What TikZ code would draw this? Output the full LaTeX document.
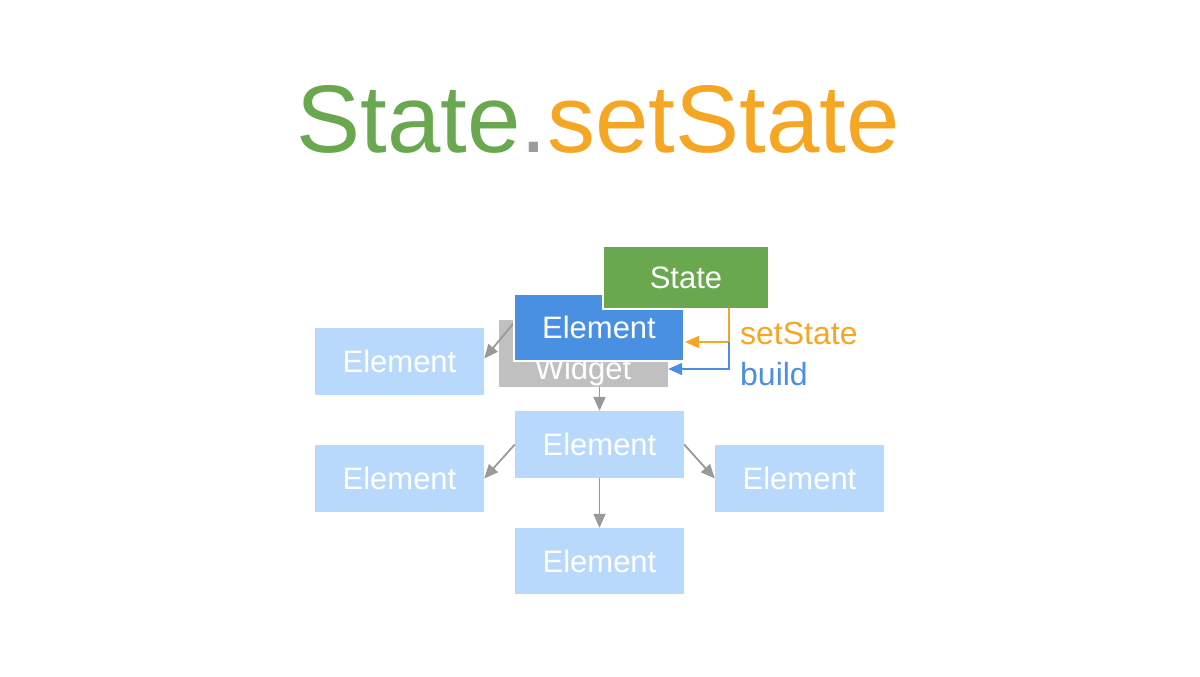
\documentclass[tikz,border=0pt]{standalone}
\usepackage{fontspec}
\setmainfont{Liberation Sans}
\usetikzlibrary{arrows.meta,calc}
\definecolor{sgreen}{HTML}{6AA84F}
\definecolor{sorange}{HTML}{F5A623}
\definecolor{sblue}{HTML}{4A90E2}
\definecolor{lblue}{HTML}{B9D9FC}
\definecolor{wgray}{HTML}{C0C0C0}
\definecolor{agray}{HTML}{999999}
\definecolor{dgray}{HTML}{9B9B9B}
\tikzset{
  box/.style={rectangle, inner sep=0pt, text=white, font=\fontsize{31}{34}\selectfont},
  lbox/.style={box, fill=lblue, minimum width=169pt, minimum height=67pt},
  garrow/.style={draw=agray, line width=1.8pt, -{Triangle[length=14pt,width=12pt]}},
  carrow/.style={line width=1.8pt, -{Triangle[length=14pt,width=12pt]}},
  lbl/.style={anchor=west, inner sep=0pt, font=\fontsize{32}{35}\selectfont}
}
\begin{document}
\begin{tikzpicture}[x=1pt,y=-1pt]
\useasboundingbox (0,0) rectangle (1200,677);
% title
\node[anchor=base, inner sep=0pt, font=\fontsize{96}{100}\selectfont] (title) at (598,152)
  {\textcolor{sgreen}{State}\textcolor{dgray}{.}\textcolor{sorange}{setState}};
% light blue elements
\node[lbox] (e1) at (399.5,361.5) {Element};
\node[lbox] (e2) at (399.5,478.5) {Element};
\node[lbox] (e3) at (599.5,444.5) {Element};
\node[lbox] (e4) at (799.5,478.5) {Element};
\node[lbox, minimum height=66pt] (e5) at (599.5,561) {Element};
% widget
\node[box, fill=wgray, minimum width=169pt, minimum height=67pt] (widget) at (583.5,353.5) {};
\node[box, anchor=base] (wtext) at (583,379) {Widget};
% arrows in the tree
\coordinate (ws) at ($(widget.north west)+(16,2)$);
\draw[garrow] (ws) -- ($(e1.east)+(0,-3)$);
\draw[garrow] (widget.south -| e3.north) -- (e3.north);
\draw[garrow] (e3.west) -- (e2.east);
\draw[garrow] (e3.east) -- (e4.west);
\draw[garrow] (e3.south) -- (e5.north);
% element and state
\node[box, fill=sblue, draw=white, line width=2pt, minimum width=170pt, minimum height=67pt] (elem) at (599,327.5) {Element};
\node[box, fill=sgreen, draw=white, line width=2pt, minimum width=166pt, minimum height=63pt] (state) at (686,277.5) {State};
% setState / build connectors
\coordinate (sb) at (729,308);
\coordinate (mid) at (729,342);
\coordinate (bb) at (729,369);
\draw[carrow, draw=sorange, color=sorange] (sb) -- (mid) -- (mid -| elem.east);
\draw[carrow, draw=sblue, color=sblue] (mid) -- (bb) -- (bb -| widget.east);
\node[lbl, text=sorange] (lset) at (740,333) {setState};
\node[lbl, text=sblue] (lbuild) at (740,374) {build};
\end{tikzpicture}
\end{document}
